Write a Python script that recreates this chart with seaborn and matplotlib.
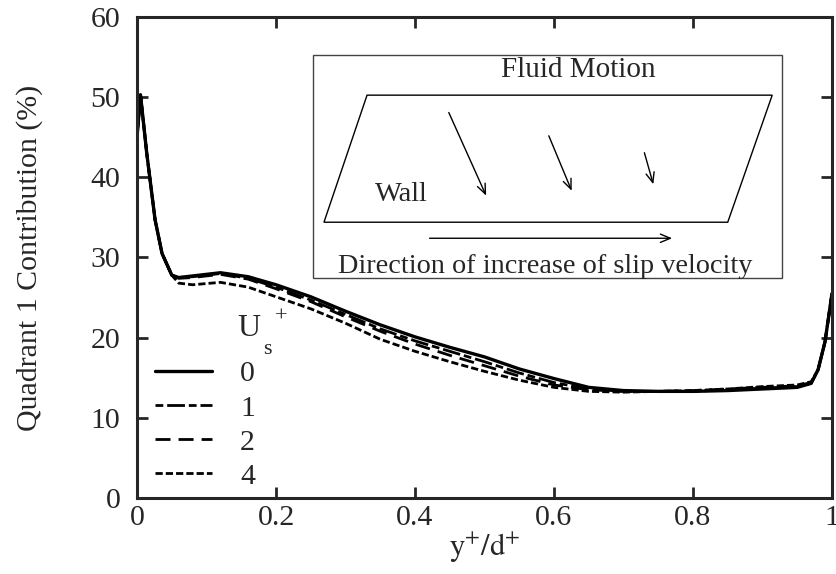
import numpy as np
import pandas as pd
import matplotlib
matplotlib.use("Agg")
import matplotlib.pyplot as plt
from matplotlib.patches import Rectangle, Polygon
import seaborn as sns

# --------------------------------------------------
# DATA
# --------------------------------------------------
y_over_d = [0.0, 0.005, 0.014, 0.026, 0.036, 0.05, 0.06, 0.08, 0.12, 0.16,
            0.2, 0.25, 0.3, 0.35, 0.4, 0.45, 0.5, 0.55, 0.6, 0.65,
            0.7, 0.75, 0.8, 0.85, 0.9, 0.95, 0.97, 0.98, 0.99, 1.0]

q1_us0 = [45.0, 50.3, 43.0, 34.7, 30.5, 27.8, 27.5, 27.7, 28.1, 27.6,
          26.6, 25.1, 23.3, 21.6, 20.1, 18.8, 17.6, 16.1, 14.9, 13.8,
          13.4, 13.3, 13.3, 13.4, 13.6, 13.8, 14.3, 16.0, 19.5, 25.5]
q1_us1 = [45.0, 50.3, 43.0, 34.7, 30.5, 27.8, 27.5, 27.6, 28.0, 27.4,
          26.3, 24.7, 22.9, 21.1, 19.6, 18.3, 17.0, 15.6, 14.4, 13.6,
          13.3, 13.3, 13.3, 13.5, 13.7, 13.9, 14.3, 16.0, 19.5, 25.5]
q1_us2 = [45.0, 50.3, 43.0, 34.7, 30.5, 27.8, 27.4, 27.5, 27.9, 27.3,
          26.1, 24.5, 22.6, 20.8, 19.2, 17.8, 16.5, 15.2, 14.1, 13.5,
          13.3, 13.3, 13.4, 13.6, 13.8, 14.0, 14.4, 16.0, 19.5, 25.5]
q1_us4 = [45.0, 50.3, 43.0, 34.7, 30.5, 27.8, 26.8, 26.6, 26.9, 26.3,
          25.1, 23.6, 21.8, 19.8, 18.3, 17.0, 15.8, 14.7, 13.8, 13.3,
          13.2, 13.3, 13.4, 13.6, 13.9, 14.1, 14.5, 16.0, 19.5, 25.5]

slip_labels = ["0", "1", "2", "4"]

# --------------------------------------------------
# STYLE
# --------------------------------------------------
sns.set_theme(style="ticks")
plt.rcParams["font.family"] = ["Liberation Serif", "DejaVu Serif"]
plt.rcParams["mathtext.fontset"] = "stix"
plt.rcParams["axes.linewidth"] = 2.2

line_styles = {
    "0": "-",
    "1": (0, (2.8, 1.4, 6.4, 1.4)),
    "2": (0, (5.4, 2.9)),
    "4": (0, (2.6, 1.1)),
}

fig = plt.figure(figsize=(8.37, 5.74), dpi=100)
ax = fig.add_axes([0.1637, 0.1324, 0.8303, 0.838])

series = [q1_us0, q1_us1, q1_us2, q1_us4]
for lab, vals in zip(slip_labels, series):
    df = pd.DataFrame({"x": y_over_d, "q1": vals})
    sns.lineplot(data=df, x="x", y="q1", ax=ax, color="black",
                 linewidth=2.4 if lab == "0" else 2.0,
                 linestyle=line_styles[lab], label=lab, estimator=None)

ax.set_xlim(0, 1)
ax.set_ylim(0, 60)
ax.set_xticks([0, 0.2, 0.4, 0.6, 0.8, 1])
ax.set_xticklabels(["0", "0.2", "0.4", "0.6", "0.8", "1"])
ax.set_yticks(range(0, 61, 10))
ax.tick_params(direction="in", length=8, width=2, labelsize=21.5,
               top=True, right=True)
ax.tick_params(axis="x", pad=5)
ax.tick_params(axis="y", pad=12)
for sp in ax.spines.values():
    sp.set_visible(True)
    sp.set_linewidth(2.2)

ax.set_xlabel(r"$\mathrm{y^{+}/d^{+}}$", fontsize=22, labelpad=0)
ax.set_ylabel("Quadrant 1 Contribution (%)", fontsize=21.5)
ax.yaxis.set_label_coords(-0.136, 0.5)

# legend
leg = ax.legend(loc="lower left", bbox_to_anchor=(0.0, -0.02), frameon=False,
                fontsize=21.5, handlelength=1.9, handletextpad=0.95,
                labelspacing=0.24, borderaxespad=0.2)
ax.text(0.161, 21.2, "U", fontsize=23, ha="center", va="center")
ax.text(0.188, 18.5, "s", fontsize=16, ha="center", va="center")
ax.text(0.207, 22.6, "+", fontsize=16, ha="center", va="center")

# --------------------------------------------------
# INSET SKETCH
# --------------------------------------------------
ax.add_patch(Rectangle((0.253, 27.4), 0.675, 27.8, fill=False,
                       edgecolor="#444444", linewidth=1.0))
ax.add_patch(Polygon([(0.331, 50.25), (0.914, 50.25), (0.850, 34.4),
                      (0.269, 34.4)], closed=True, fill=False,
                     edgecolor="black", linewidth=1.0))

arrow_kw = dict(arrowstyle="->,head_length=0.6,head_width=0.25",
                color="black", lw=1.0)
ax.annotate("", xy=(0.504, 37.4), xytext=(0.447, 48.4), arrowprops=arrow_kw)
ax.annotate("", xy=(0.627, 38.0), xytext=(0.591, 45.5), arrowprops=arrow_kw)
ax.annotate("", xy=(0.744, 38.8), xytext=(0.729, 43.4), arrowprops=arrow_kw)
ax.annotate("", xy=(0.774, 32.4), xytext=(0.417, 32.4), arrowprops=arrow_kw)

ax.text(0.635, 53.4, "Fluid Motion", fontsize=21, ha="center", va="center")
ax.text(0.342, 37.8, "Wall", fontsize=20.5, ha="left", va="center")
ax.text(0.587, 28.9, "Direction of increase of slip velocity", fontsize=20.3,
        ha="center", va="center")

plt.savefig("out.png", dpi=100)
